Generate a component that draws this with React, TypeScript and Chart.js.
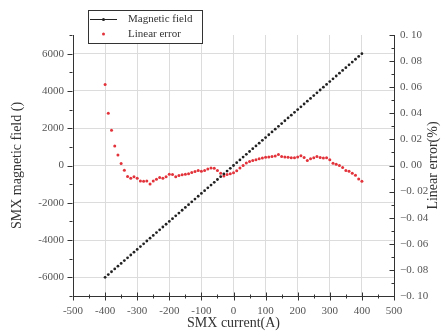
import React, { useEffect, useRef } from "react";
import { Chart, registerables } from "chart.js";

Chart.register(...registerables);

const currents = [
  -400, -390, -380, -370, -360, -350, -340, -330, -320, -310,
  -300, -290, -280, -270, -260, -250, -240, -230, -220, -210,
  -200, -190, -180, -170, -160, -150, -140, -130, -120, -110,
  -100, -90, -80, -70, -60, -50, -40, -30, -20, -10,
  0, 10, 20, 30, 40, 50, 60, 70, 80, 90,
  100, 110, 120, 130, 140, 150, 160, 170, 180, 190,
  200, 210, 220, 230, 240, 250, 260, 270, 280, 290,
  300, 310, 320, 330, 340, 350, 360, 370, 380, 390, 400,
];

const magneticField = [
  -6000, -5850, -5700, -5550, -5400, -5250, -5100, -4950, -4800, -4650,
  -4500, -4350, -4200, -4050, -3900, -3750, -3600, -3450, -3300, -3150,
  -3000, -2850, -2700, -2550, -2400, -2250, -2100, -1950, -1800, -1650,
  -1500, -1350, -1200, -1050, -900, -750, -600, -450, -300, -150,
  0, 150, 300, 450, 600, 750, 900, 1050, 1200, 1350,
  1500, 1650, 1800, 1950, 2100, 2250, 2400, 2550, 2700, 2850,
  3000, 3150, 3300, 3450, 3600, 3750, 3900, 4050, 4200, 4350,
  4500, 4650, 4800, 4950, 5100, 5250, 5400, 5550, 5700, 5850, 6000,
];

const linearError = [
  0.062, 0.040, 0.027, 0.015, 0.008, 0.0015, -0.0036, -0.0085, -0.0098, -0.0087,
  -0.0098, -0.0118, -0.0121, -0.0118, -0.0141, -0.0118, -0.0105, -0.0092, -0.0098, -0.0087,
  -0.0067, -0.0069, -0.0087, -0.0077, -0.0070, -0.0068, -0.0064, -0.0054, -0.0046, -0.0038,
  -0.0044, -0.0038, -0.0026, -0.0020, -0.0022, -0.0038, -0.0059, -0.0080, -0.0069, -0.0064,
  -0.0056, -0.0040, -0.0020, 0.0000, 0.0020, 0.0030, 0.0038, 0.0045, 0.0051, 0.0058,
  0.0064, 0.0066, 0.0069, 0.0072, 0.0085, 0.0069, 0.0066, 0.0064, 0.0060, 0.0059,
  0.0066, 0.0074, 0.0062, 0.0038, 0.0052, 0.0060, 0.0069, 0.0062, 0.0058, 0.0059,
  0.0044, 0.0018, 0.0010, 0.0000, -0.0015, -0.0038, -0.0045, -0.0059, -0.0075, -0.0103, -0.0120,
];

const xTicks = [-500, -400, -300, -200, -100, 0, 100, 200, 300, 400, 500];
const xTickLabels = ["-500", "-400", "-300", "-200", "-100", "0", "100", "200", "300", "400", "500"];
const xMinorTicks = [-450, -350, -250, -150, -50, 50, 150, 250, 350, 450];

const leftTicks = [-6000, -4000, -2000, 0, 2000, 4000, 6000];
const leftTickLabels = ["-6000", "-4000", "-2000", "0", "2000", "4000", "6000"];
const leftMinorTicks = [-7000, -5000, -3000, -1000, 1000, 3000, 5000, 7000];

const rightTicks = [-0.1, -0.08, -0.06, -0.04, -0.02, 0, 0.02, 0.04, 0.06, 0.08, 0.1];
const rightTickLabels = ["\u22120. 10", "\u22120. 08", "\u22120. 06", "\u22120. 04", "\u22120. 02", "0. 00", "0. 02", "0. 04", "0. 06", "0. 08", "0. 10"];
const rightMinorTicks = [-0.09, -0.07, -0.05, -0.03, -0.01, 0.01, 0.03, 0.05, 0.07, 0.09];

const seriesNames = ["Magnetic field", "Linear error"];
const xTitle = "SMX current(A)";
const leftTitle = "SMX magnetic field ()";
const rightTitle = "Linear error(%)";

const SERIF = "'Liberation Serif', 'Times New Roman', serif";
const RED = "#e2333b";
const BLACK = "#222";

const decorPlugin = {
  id: "decor",
  afterDraw(chart: any) {
    const { ctx, chartArea, scales } = chart;
    const x = scales.x;
    const y = scales.y;
    const y1 = scales.y1;
    ctx.save();
    ctx.strokeStyle = "#333";
    ctx.lineWidth = 1;
    const line = (x0: number, y0: number, x1: number, y1_: number) => {
      ctx.beginPath();
      ctx.moveTo(x0, y0);
      ctx.lineTo(x1, y1_);
      ctx.stroke();
    };
    const b = Math.round(chartArea.bottom) + 0.5;
    const l = Math.round(chartArea.left) - 0.5;
    const r = Math.round(chartArea.right) + 0.5;
    // x ticks (crossing)
    xTicks.forEach((v) => {
      const px = Math.round(x.getPixelForValue(v)) + 0.5;
      line(px, b - 4, px, b + 4);
    });
    xMinorTicks.forEach((v) => {
      const px = Math.round(x.getPixelForValue(v)) + 0.5;
      line(px, b - 2, px, b + 2);
    });
    // left ticks (outward)
    leftTicks.forEach((v) => {
      const py = Math.round(y.getPixelForValue(v)) + 0.5;
      line(l - 5, py, l, py);
    });
    leftMinorTicks.forEach((v) => {
      const py = Math.round(y.getPixelForValue(v)) + 0.5;
      line(l - 3, py, l, py);
    });
    // right ticks (inward)
    rightTicks.forEach((v) => {
      const py = Math.round(y1.getPixelForValue(v)) + 0.5;
      line(r - 5, py, r, py);
    });
    rightMinorTicks.forEach((v) => {
      const py = Math.round(y1.getPixelForValue(v)) + 0.5;
      line(r - 3, py, r, py);
    });

    // titles
    ctx.fillStyle = "#333";
    ctx.font = `14px ${SERIF}`;
    ctx.textAlign = "center";
    ctx.textBaseline = "middle";
    ctx.fillText(xTitle, (chartArea.left + chartArea.right) / 2, 323);
    ctx.save();
    ctx.translate(17, (chartArea.top + chartArea.bottom) / 2);
    ctx.rotate(-Math.PI / 2);
    ctx.fillText(leftTitle, 0, 0);
    ctx.restore();
    ctx.save();
    ctx.translate(433, (chartArea.top + chartArea.bottom) / 2);
    ctx.rotate(-Math.PI / 2);
    ctx.fillText(rightTitle, 0, 0);
    ctx.restore();

    // legend
    ctx.fillStyle = "#fff";
    ctx.fillRect(88.5, 10.5, 114, 33);
    ctx.strokeStyle = "#333";
    ctx.strokeRect(88.5, 10.5, 114, 33);
    ctx.strokeStyle = BLACK;
    line(90, 19.5, 117, 19.5);
    ctx.fillStyle = BLACK;
    ctx.beginPath();
    ctx.arc(103.5, 19.5, 1.5, 0, Math.PI * 2);
    ctx.fill();
    ctx.fillStyle = RED;
    ctx.beginPath();
    ctx.arc(103.5, 34, 1.5, 0, Math.PI * 2);
    ctx.fill();
    ctx.fillStyle = "#333";
    ctx.font = `11px ${SERIF}`;
    ctx.textAlign = "left";
    ctx.fillText(seriesNames[0], 128, 19);
    ctx.fillText(seriesNames[1], 128, 34);
    ctx.restore();
  },
};

export default function App() {
  const ref = useRef<HTMLCanvasElement>(null);

  useEffect(() => {
    document.body.style.margin = "0";
    const canvas = ref.current;
    if (!canvas) return;
    const tickFont = { family: SERIF, size: 11 };
    const chart = new Chart(canvas, {
      type: "scatter",
      data: {
        datasets: [
          {
            label: seriesNames[0],
            data: currents.map((c, i) => ({ x: c, y: magneticField[i] })),
            yAxisID: "y",
            showLine: false,
            pointRadius: 1.4,
            pointBackgroundColor: BLACK,
            pointBorderWidth: 0,
            order: 1,
          },
          {
            label: seriesNames[1],
            data: currents.map((c, i) => ({ x: c, y: linearError[i] })),
            yAxisID: "y1",
            showLine: false,
            pointRadius: 1.5,
            pointBackgroundColor: RED,
            pointBorderWidth: 0,
            order: 2,
          },
        ],
      },
      options: {
        animation: false,
        responsive: false,
        devicePixelRatio: 1,
        layout: { padding: { top: 35, left: 0, right: 0, bottom: 0 } },
        plugins: { legend: { display: false }, tooltip: { enabled: false } },
        scales: {
          x: {
            type: "linear",
            min: -500,
            max: 500,
            afterBuildTicks: (s: any) => {
              s.ticks = xTicks.map((v) => ({ value: v }));
            },
            afterFit: (s: any) => {
              s.height = 37;
            },
            grid: { color: "#dcdcdc", drawTicks: false },
            border: { display: true, color: "#333" },
            ticks: {
              font: tickFont,
              color: "#555",
              padding: 9,
              maxRotation: 0,
              autoSkip: false,
              callback: (v: any) => xTickLabels[xTicks.indexOf(Number(v))] ?? "",
            },
          },
          y: {
            type: "linear",
            position: "left",
            min: -7000,
            max: 7000,
            afterBuildTicks: (s: any) => {
              s.ticks = leftTicks.map((v) => ({ value: v }));
            },
            afterFit: (s: any) => {
              s.width = 73;
            },
            grid: { color: "#dcdcdc", drawTicks: false },
            border: { display: true, color: "#333" },
            ticks: {
              font: tickFont,
              color: "#555",
              padding: 9,
              autoSkip: false,
              callback: (v: any) => leftTickLabels[leftTicks.indexOf(Number(v))] ?? "",
            },
          },
          y1: {
            type: "linear",
            position: "right",
            min: -0.1,
            max: 0.1,
            afterBuildTicks: (s: any) => {
              s.ticks = rightTicks.map((v) => ({ value: v }));
            },
            afterFit: (s: any) => {
              s.width = 52;
            },
            grid: { display: false, drawTicks: false },
            border: { display: true, color: "#333" },
            ticks: {
              font: tickFont,
              color: "#555",
              padding: 6,
              autoSkip: false,
              callback: (v: any) => {
                const i = rightTicks.findIndex((t) => Math.abs(t - Number(v)) < 1e-9);
                return i >= 0 ? rightTickLabels[i] : "";
              },
            },
          },
        },
      },
      plugins: [decorPlugin],
    } as any);
    return () => chart.destroy();
  }, []);

  return <canvas ref={ref} width={446} height={333} style={{ display: "block" }} />;
}
